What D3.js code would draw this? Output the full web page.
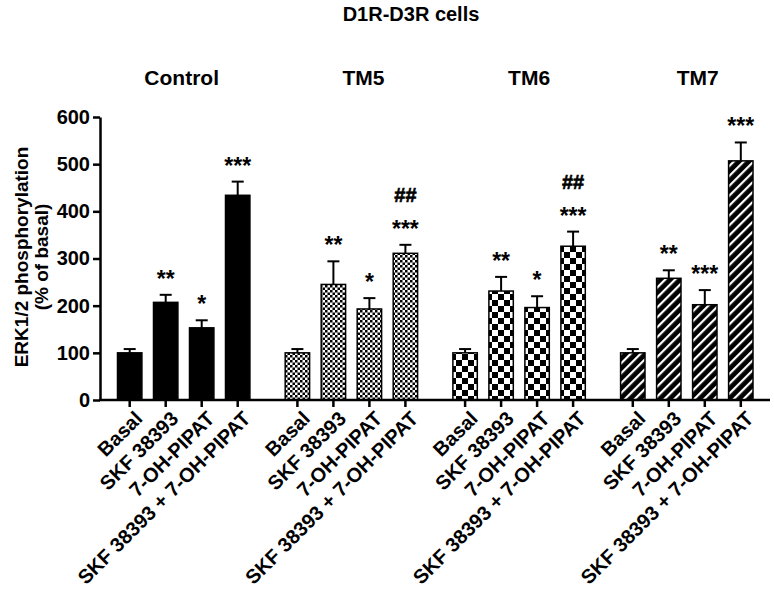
<!DOCTYPE html>
<html><head><meta charset="utf-8">
<script src="https://cdn.jsdelivr.net/npm/d3@7"></script>
<style>
body{margin:0;background:#fff}
text{font-family:"Liberation Sans",Arial,Helvetica,sans-serif;font-weight:bold;fill:#000}
</style>
</head><body>
<svg id="c" width="774" height="593"></svg>
<script>
// ---- data ----
const title = "D1R-D3R cells";
const groups = ["Control", "TM5", "TM6", "TM7"];
const treatments = ["Basal", "SKF 38393", "7-OH-PIPAT", "SKF 38393 + 7-OH-PIPAT"];
const controlMean = [100, 207, 153, 434];
const controlSem  = [8, 16, 16, 29];
const tm5Mean = [100, 245, 193, 311];
const tm5Sem  = [8, 49, 23, 18];
const tm6Mean = [100, 231, 196, 326];
const tm6Sem  = [8, 30, 24, 31];
const tm7Mean = [100, 258, 202, 507];
const tm7Sem  = [8, 17, 31, 39];
const controlStars = ["", "**", "*", "***"];
const tm5Stars = ["", "**", "*", "***"];
const tm6Stars = ["", "**", "*", "***"];
const tm7Stars = ["", "**", "***", "***"];
const controlHash = ["", "", "", ""];
const tm5Hash = ["", "", "", "##"];
const tm6Hash = ["", "", "", "##"];
const tm7Hash = ["", "", "", ""];
const yTicks = [0, 100, 200, 300, 400, 500, 600];
const yLabel1 = "ERK1/2 phosphorylation";
const yLabel2 = "(% of basal)";

const means = [controlMean, tm5Mean, tm6Mean, tm7Mean];
const sems = [controlSem, tm5Sem, tm6Sem, tm7Sem];
const stars = [controlStars, tm5Stars, tm6Stars, tm7Stars];
const hashes = [controlHash, tm5Hash, tm6Hash, tm7Hash];
const fills = ["#000", "url(#pFine)", "url(#pCheck)", "url(#pStripe)"];

const rows = [];
groups.forEach((g, gi) => treatments.forEach((t, ti) => rows.push({
  g, t, gi, ti, v: means[gi][ti], e: sems[gi][ti], s: stars[gi][ti], h: hashes[gi][ti]
})));

// ---- layout ----
const svg = d3.select("#c");
const axisX = 100, baseY = 400, topY = 117, axisEnd = 770;
const x0 = d3.scaleBand().domain(groups).range([111.7, 758.8]).paddingInner(0.1413);
const x1 = d3.scaleBand().domain(treatments).range([0, x0.bandwidth()]).paddingInner(0.322).paddingOuter(0.161);
const y = d3.scaleLinear().domain([0, 600]).range([baseY, topY]);
const cx = d => x0(d.g) + x1(d.t) + x1.bandwidth() / 2;

// patterns
const defs = svg.append("defs");
const p1 = defs.append("pattern").attr("id", "pFine").attr("patternUnits", "userSpaceOnUse").attr("width", 5).attr("height", 5);
p1.append("rect").attr("width", 5).attr("height", 5).attr("fill", "#fff");
p1.append("rect").attr("width", 2.5).attr("height", 2.5).attr("fill", "#000");
p1.append("rect").attr("x", 2.5).attr("y", 2.5).attr("width", 2.5).attr("height", 2.5).attr("fill", "#000");
const p2 = defs.append("pattern").attr("id", "pCheck").attr("patternUnits", "userSpaceOnUse").attr("width", 12).attr("height", 12);
p2.append("rect").attr("width", 12).attr("height", 12).attr("fill", "#fff");
p2.append("rect").attr("width", 6).attr("height", 6).attr("fill", "#000");
p2.append("rect").attr("x", 6).attr("y", 6).attr("width", 6).attr("height", 6).attr("fill", "#000");
const p3 = defs.append("pattern").attr("id", "pStripe").attr("patternUnits", "userSpaceOnUse")
  .attr("width", 7).attr("height", 7).attr("patternTransform", "rotate(45)");
p3.append("rect").attr("width", 7).attr("height", 7).attr("fill", "#000");
p3.append("rect").attr("x", 2).attr("width", 2.2).attr("height", 7).attr("fill", "#fff");

// title
svg.append("text").attr("x", 411).attr("y", 21).attr("text-anchor", "middle")
  .style("font-size", "20px").text(title);

// group titles
const titleDx = [-2, 12, 10, 11];
svg.selectAll(".gt").data(groups).join("text").attr("class", "gt")
  .attr("x", (g, i) => x0(g) + x0.bandwidth() / 2 + titleDx[i]).attr("y", 85)
  .attr("text-anchor", "middle").style("font-size", "21px").text(g => g);

// bars
svg.selectAll(".bar").data(rows).join("rect").attr("class", "bar")
  .attr("x", d => x0(d.g) + x1(d.t)).attr("width", x1.bandwidth())
  .attr("y", d => y(d.v)).attr("height", d => y(0) - y(d.v))
  .attr("fill", d => fills[d.gi]).attr("stroke", "#000").attr("stroke-width", 1.5);

// error bars
svg.selectAll(".eb").data(rows).join("line").attr("class", "eb")
  .attr("x1", cx).attr("x2", cx).attr("y1", d => y(d.v)).attr("y2", d => y(d.v + d.e))
  .attr("stroke", "#000").attr("stroke-width", 2);
svg.selectAll(".ec").data(rows).join("line").attr("class", "ec")
  .attr("x1", d => cx(d) - 6).attr("x2", d => cx(d) + 6).attr("y1", d => y(d.v + d.e)).attr("y2", d => y(d.v + d.e))
  .attr("stroke", "#000").attr("stroke-width", 2);

// stars and hashes
svg.selectAll(".st").data(rows.filter(d => d.s)).join("text").attr("class", "st")
  .attr("x", cx).attr("y", d => y(d.v + d.e) - 8).attr("text-anchor", "middle")
  .style("font-size", "23px").text(d => d.s);
svg.selectAll(".hs").data(rows.filter(d => d.h)).join("text").attr("class", "hs")
  .attr("x", cx).attr("y", d => y(d.v + d.e) - 43).attr("text-anchor", "middle")
  .style("font-size", "20px").style("stroke", "#000").style("stroke-width", 0.6).text(d => d.h);

// y axis
const yAxis = svg.append("g").attr("transform", `translate(${axisX},0)`)
  .call(d3.axisLeft(y).tickValues(yTicks).tickSize(7).tickSizeOuter(0).tickPadding(3).tickFormat(d3.format("d")));
yAxis.select(".domain").attr("stroke-width", 2.5);
yAxis.selectAll(".tick line").attr("stroke-width", 2.5);
yAxis.selectAll(".tick text").style("font-size", "20px").style("font-family", "'Liberation Sans',Arial,sans-serif").style("font-weight", "bold");

// x axis
svg.append("line").attr("x1", axisX - 1).attr("x2", axisEnd).attr("y1", baseY).attr("y2", baseY)
  .attr("stroke", "#000").attr("stroke-width", 2.5);
svg.selectAll(".xt").data(rows).join("line").attr("class", "xt")
  .attr("x1", cx).attr("x2", cx).attr("y1", baseY).attr("y2", baseY + 7)
  .attr("stroke", "#000").attr("stroke-width", 2.5);
svg.selectAll(".xl").data(rows).join("text").attr("class", "xl")
  .attr("transform", d => `translate(${cx(d) + 4},${baseY + 10}) rotate(-45)`)
  .attr("text-anchor", "end").attr("dy", "0.7em").style("font-size", "20px").text(d => d.t);

// y label
const yl = svg.append("text").attr("transform", "translate(0,257) rotate(-90)").attr("text-anchor", "middle")
  .style("font-size", "19px");
yl.append("tspan").attr("x", 0).attr("y", 28).text(yLabel1);
yl.append("tspan").attr("x", 0).attr("y", 48).text(yLabel2);
</script>
</body></html>
